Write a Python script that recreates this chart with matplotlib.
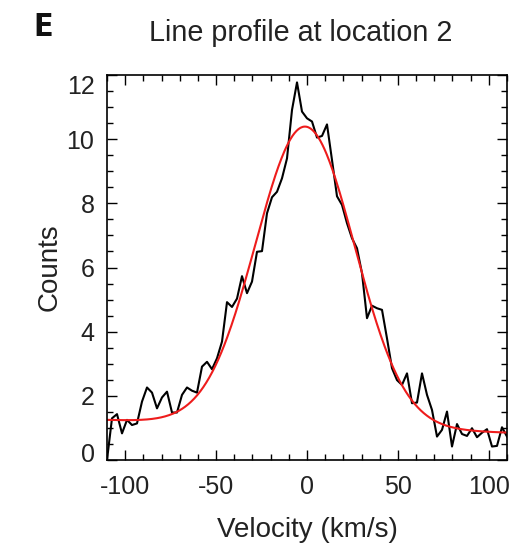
import numpy as np
import matplotlib
matplotlib.use("Agg")
import matplotlib.pyplot as plt
from matplotlib.ticker import MultipleLocator
from matplotlib.transforms import ScaledTranslation

plt.rcParams['font.family'] = ['Liberation Sans', 'DejaVu Sans']
plt.rcParams['axes.unicode_minus'] = False

# observed spectrum, sampled every 2.75 km/s from -110 to +110
v_start, v_step = -110.0, 2.75
counts = [
    0.00, 1.30, 1.43, 0.83, 1.25, 1.09, 1.14, 1.82, 2.26, 2.10,
    1.61, 1.95, 2.13, 1.48, 1.48, 2.03, 2.26, 2.16, 2.10, 2.91,
    3.06, 2.83, 3.17, 3.69, 4.92, 4.77, 5.03, 5.73, 5.20, 5.56,
    6.49, 6.51, 7.69, 8.19, 8.36, 8.78, 9.40, 10.91, 11.77, 10.86,
    10.65, 10.55, 10.05, 10.10, 10.46, 9.35, 8.22, 7.95, 7.38, 6.91,
    6.60, 5.82, 4.42, 4.81, 4.73, 4.68, 3.79, 2.86, 2.49, 2.34,
    2.70, 1.77, 1.79, 2.70, 2.03, 1.56, 0.73, 0.94, 1.51, 0.42,
    1.12, 0.81, 0.75, 0.99, 0.71, 0.85, 0.96, 0.42, 0.44, 1.02,
    0.73,
]
velocity = v_start + v_step * np.arange(len(counts))

# gaussian fit
fit_amp = 9.34
fit_center = -1.0
fit_sigma = 27.2
fit_bg0 = 1.05
fit_bg_slope = -0.0018

v_fit = np.linspace(-110, 110, 400)
fit = fit_bg0 + fit_bg_slope * v_fit + fit_amp * np.exp(-(v_fit - fit_center) ** 2 / (2 * fit_sigma ** 2))

fig = plt.figure(figsize=(5.2, 5.54), dpi=100)
ax = fig.add_axes([107 / 520, 1 - 460 / 554, 400 / 520, 385 / 554])

ax.plot(velocity, counts, color='black', lw=1.5)
ax.plot(v_fit, fit, color='#ee1c1c', lw=1.5)

ax.set_xlim(-110, 110)
ax.set_ylim(0, 12)
ax.xaxis.set_major_locator(MultipleLocator(50))
ax.xaxis.set_minor_locator(MultipleLocator(10))
ax.yaxis.set_major_locator(MultipleLocator(2))
ax.yaxis.set_minor_locator(MultipleLocator(0.5))
ax.tick_params(which='both', direction='in', top=True, right=True, width=1.0,
               labelsize=18, colors='black', labelcolor='#222222')
ax.tick_params(which='major', length=7)
ax.tick_params(which='minor', length=4)
ax.tick_params(axis='x', pad=11)
ax.tick_params(axis='y', pad=9)
for s in ax.spines.values():
    s.set_linewidth(1.2)

ax.set_xlabel('Velocity (km/s)', fontsize=20, color='#222222', labelpad=13)
ax.set_ylabel('Counts', fontsize=20, color='#222222', labelpad=3)

# IDL style: end labels pulled inside the axis range
fig.canvas.draw()
for lab in ax.get_yticklabels():
    if lab.get_text() == '12':
        lab.set_transform(lab.get_transform() + ScaledTranslation(0, -9 / 100, fig.dpi_scale_trans))
    if lab.get_text() == '0':
        lab.set_transform(lab.get_transform() + ScaledTranslation(0, 7 / 100, fig.dpi_scale_trans))

fig.text(301 / 520, 1 - 41 / 554, 'Line profile at location 2', fontsize=20.7,
         ha='center', va='baseline', color='#222222')
fig.text(33 / 520, 1 - 36 / 554, 'E', fontsize=23, fontweight='bold',
         family='DejaVu Sans', fontstretch='condensed', ha='left', va='baseline', color='#111111')

fig.savefig('out.png', dpi=100)
